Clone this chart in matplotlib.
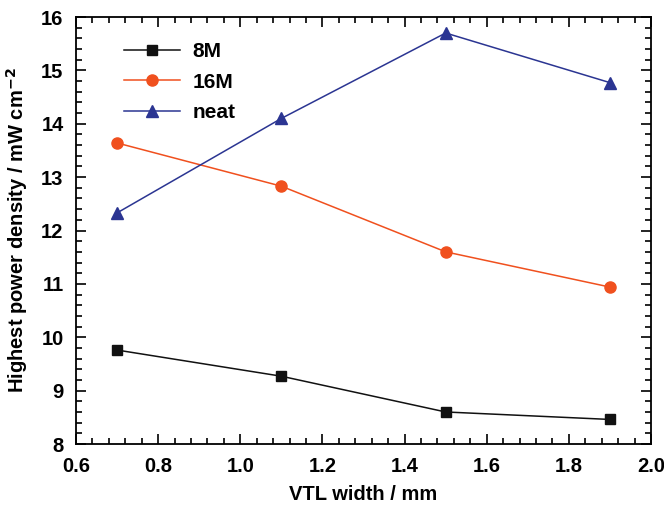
import matplotlib
matplotlib.use("Agg")
import matplotlib.pyplot as plt
from matplotlib.ticker import MultipleLocator

plt.rcParams['font.family'] = ['Liberation Sans', 'DejaVu Sans']
plt.rcParams['font.weight'] = 'bold'
plt.rcParams['axes.unicode_minus'] = False

widths = [0.7, 1.1, 1.5, 1.9]
pd_8m = [9.76, 9.27, 8.60, 8.46]
pd_16m = [13.64, 12.83, 11.60, 10.94]
pd_neat = [12.33, 14.10, 15.70, 14.77]

fig = plt.figure(figsize=(6.64, 5.09), dpi=100)
ax = fig.add_axes([0.1145, 0.1277, 0.8660, 0.8389])

ax.plot(widths, pd_8m, color='#111111', lw=1.1, marker='s', ms=7, label='8M')
ax.plot(widths, pd_16m, color='#f0501e', lw=1.1, marker='o', ms=8, label='16M')
ax.plot(widths, pd_neat, color='#2b3592', lw=1.1, marker='^', ms=9, label='neat')

ax.set_xlim(0.6, 2.0)
ax.set_ylim(8, 16)
ax.xaxis.set_major_locator(MultipleLocator(0.2))
ax.xaxis.set_minor_locator(MultipleLocator(0.04))
ax.yaxis.set_major_locator(MultipleLocator(1))
ax.yaxis.set_minor_locator(MultipleLocator(0.2))
ax.tick_params(which='both', direction='in', top=True, right=True, width=1.2, labelsize=14.5)
ax.tick_params(which='major', length=7)
ax.tick_params(which='minor', length=4)
ax.tick_params(axis='x', pad=9)
ax.tick_params(axis='y', pad=9)
for s in ax.spines.values():
    s.set_linewidth(1.3)

ax.set_xlabel('VTL width / mm', fontsize=14.5, fontweight='bold', labelpad=7)
ax.set_ylabel('Highest power density / mW cm$^{\\mathbf{-2}}$', fontsize=14.5, fontweight='bold', labelpad=8)

ax.legend(loc='upper left', bbox_to_anchor=(0.05, 0.985), frameon=False, fontsize=15,
          handlelength=2.7, labelspacing=0.55, handletextpad=0.6)

fig.savefig('out.png', dpi=100)
